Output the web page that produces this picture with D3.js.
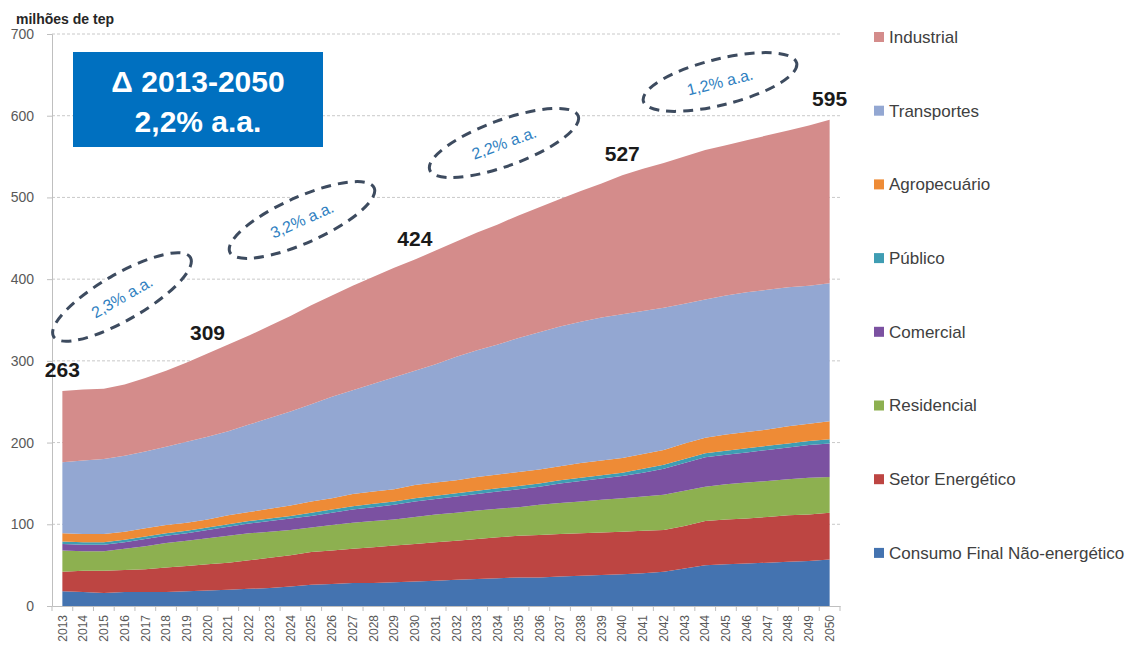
<!DOCTYPE html>
<html>
<head>
<meta charset="utf-8">
<script src="https://cdn.jsdelivr.net/npm/d3@7"></script>
<style>
  body { margin: 0; background: #fff; }
  svg { font-family: "Liberation Sans", Arial, sans-serif; display: block; }
</style>
</head>
<body>
<svg id="chart" width="1136" height="648"></svg>
<script>
// categories
const years = [2013, 2014, 2015, 2016, 2017, 2018, 2019, 2020, 2021, 2022,
    2023, 2024, 2025, 2026, 2027, 2028, 2029, 2030, 2031, 2032,
    2033, 2034, 2035, 2036, 2037, 2038, 2039, 2040, 2041, 2042,
    2043, 2044, 2045, 2046, 2047, 2048, 2049, 2050];

// series, milhões de tep (bottom of the stack first)
const consumoNaoEnergetico = [18, 17, 16, 17, 17, 17, 18, 19, 20, 21, 22, 24, 26, 27, 28, 28, 29, 30, 31, 32,
    33, 34, 35, 35, 36, 37, 38, 39, 40, 42, 46, 50, 51, 52, 53, 54, 55, 57];
const setorEnergetico = [24, 26, 27, 27, 28, 30, 31, 32, 33, 35, 37, 38, 40, 41, 42, 44, 45, 46, 47, 48,
    49, 50, 51, 52, 52, 52, 52, 52, 52, 51, 52, 54, 55, 55, 56, 57, 57, 57];
const residencial = [26, 24, 24, 26, 28, 30, 31, 32, 33, 33, 32, 31, 30, 31, 32, 32, 32, 33, 34, 34,
    35, 35, 35, 37, 38, 39, 40, 41, 42, 43, 43, 42, 43, 44, 44, 44, 45, 44];
const comercial = [8, 8, 8, 8, 9, 9, 9, 10, 11, 12, 13, 14, 14, 15, 16, 17, 18, 19, 19, 20,
    20, 21, 22, 22, 24, 25, 26, 27, 29, 32, 34, 36, 36, 37, 38, 39, 40, 41];
const publico = [3, 3, 3, 3, 3, 3, 3, 3, 3, 3, 3, 3, 4, 4, 4, 4, 4, 4, 4, 4,
    4, 4, 4, 4, 4, 4, 4, 4, 5, 5, 5, 5, 5, 5, 5, 5, 5, 5];
const agropecuario = [10, 10, 10, 10, 10, 10, 10, 10, 11, 11, 12, 13, 14, 14, 15, 15, 15, 16, 16, 16,
    17, 17, 17, 17, 17, 18, 18, 18, 18, 18, 19, 19, 20, 20, 20, 21, 21, 22];
const transportes = [87, 90, 92, 93, 94, 96, 99, 101, 103, 107, 111, 115, 119, 124, 127, 132, 137, 140, 145, 151,
    155, 159, 164, 168, 171, 173, 175, 176, 175, 174, 171, 169, 170, 171, 171, 170, 169, 169];
const industrial = [87, 87, 86, 87, 90, 93, 97, 102, 106, 109, 113, 117, 121, 124, 128, 131, 134, 136, 139, 141,
    144, 147, 150, 153, 156, 160, 164, 170, 174, 177, 180, 183, 184, 186, 189, 192, 196, 200];

const seriesNames = ["Consumo Final Não-energético", "Setor Energético", "Residencial", "Comercial",
    "Público", "Agropecuário", "Transportes", "Industrial"];
const seriesValues = [consumoNaoEnergetico, setorEnergetico, residencial, comercial,
    publico, agropecuario, transportes, industrial];
const seriesColors = ["#4473b0", "#bd4542", "#8db050", "#7b51a1", "#3f9db3", "#ee8b36", "#93a7d2", "#d48c8b"];

// totals written over the areas
const totalYears = [2013, 2020, 2030, 2040, 2050];
const totalLabels = ["263", "309", "424", "527", "595"];

// growth notes
const growthLabels = ["2,3% a.a.", "3,2% a.a.", "2,2% a.a.", "1,2% a.a."];

const yTicks = [0, 100, 200, 300, 400, 500, 600, 700];

const svg = d3.select("#chart");

const x = d3.scaleBand()
    .domain(years)
    .range([52, 840]);
const cx = (yr) => x(yr) + x.bandwidth() / 2;

const y = d3.scaleLinear()
    .domain([0, 700])
    .range([606, 34]);

// dotted gridlines
svg.append("g")
    .selectAll("line")
    .data(yTicks.slice(1))
    .join("line")
        .attr("x1", 52)
        .attr("x2", 840)
        .attr("y1", (d) => y(d))
        .attr("y2", (d) => y(d))
        .attr("stroke", "#c9c9c9")
        .attr("stroke-dasharray", "3,2");

// stacked areas
const rows = years.map((yr, i) => {
    const r = { year: yr };
    seriesNames.forEach((k, j) => r[k] = seriesValues[j][i]);
    return r;
});
const stacked = d3.stack().keys(seriesNames)(rows);

const area = d3.area()
    .x((d) => cx(d.data.year))
    .y0((d) => y(d[0]))
    .y1((d) => y(d[1]));

svg.append("g")
    .selectAll("path")
    .data(stacked)
    .join("path")
        .attr("d", area)
        .attr("fill", (d, i) => seriesColors[i]);

// y axis
const yAxis = svg.append("g")
    .attr("transform", "translate(52, 0)")
    .call(d3.axisLeft(y).tickValues(yTicks).tickSize(5).tickPadding(13));
yAxis.select(".domain").attr("stroke", "#bfbfbf");
yAxis.selectAll(".tick line").attr("stroke", "#bfbfbf");
yAxis.selectAll("text")
    .attr("fill", "#595959")
    .style("font-size", "14px")
    .style("font-family", "'Liberation Sans', Arial, sans-serif");

// x axis, labels rotated, ticks between categories
const xAxis = svg.append("g")
    .attr("transform", "translate(0, 606)")
    .call(d3.axisBottom(x).tickSize(0));
xAxis.select(".domain").attr("stroke", "#bfbfbf");
xAxis.selectAll("text")
    .attr("transform", "rotate(-90)")
    .attr("x", -9)
    .attr("y", 0)
    .attr("dy", "0.35em")
    .attr("fill", "#595959")
    .style("text-anchor", "end")
    .style("font-size", "12px")
    .style("font-family", "'Liberation Sans', Arial, sans-serif");

svg.append("g")
    .selectAll("line")
    .data(years.concat(["end"]))
    .join("line")
        .attr("x1", (d) => d === "end" ? x.range()[1] : x(d))
        .attr("x2", (d) => d === "end" ? x.range()[1] : x(d))
        .attr("y1", 606)
        .attr("y2", 611)
        .attr("stroke", "#bfbfbf");

// unit
svg.append("text")
    .attr("x", 16)
    .attr("y", 24)
    .attr("font-size", "14px")
    .attr("font-weight", "bold")
    .attr("fill", "#262626")
    .text("milhões de tep");

// totals
const topOf = (yr) => {
    const i = years.indexOf(yr);
    return d3.sum(seriesValues, (s) => s[i]);
};
svg.append("g")
    .selectAll("text")
    .data(totalYears)
    .join("text")
        .attr("x", (d) => cx(d))
        .attr("y", (d) => y(topOf(d)) - 14)
        .attr("text-anchor", "middle")
        .attr("font-size", "21px")
        .attr("font-weight", "bold")
        .attr("fill", "#1a1a1a")
        .text((d, i) => totalLabels[i]);

// blue box
svg.append("rect")
    .attr("x", 73)
    .attr("y", 52)
    .attr("width", 250)
    .attr("height", 95)
    .attr("fill", "#0070c0");
svg.append("text")
    .attr("x", 198)
    .attr("y", 92)
    .attr("text-anchor", "middle")
    .attr("font-size", "30px")
    .attr("font-weight", "bold")
    .attr("fill", "#fff")
    .text("Δ 2013-2050");
svg.append("text")
    .attr("x", 198)
    .attr("y", 132)
    .attr("text-anchor", "middle")
    .attr("font-size", "30px")
    .attr("font-weight", "bold")
    .attr("fill", "#fff")
    .text("2,2% a.a.");

// dashed ellipses with growth rates
const notePlaces = [
    { cx: 122, cy: 297, angle: -30 },
    { cx: 302, cy: 220, angle: -24 },
    { cx: 504, cy: 143, angle: -20 },
    { cx: 720, cy: 82, angle: -14 }
];
const notes = svg.append("g")
    .selectAll("g")
    .data(growthLabels)
    .join("g")
        .attr("transform", (d, i) => `translate(${notePlaces[i].cx}, ${notePlaces[i].cy}) rotate(${notePlaces[i].angle})`);
notes.append("ellipse")
    .attr("rx", 79)
    .attr("ry", 23)
    .attr("fill", "#fff")
    .attr("stroke", "#3d4b5f")
    .attr("stroke-width", 3)
    .attr("stroke-dasharray", "10,7");
notes.append("text")
    .attr("text-anchor", "middle")
    .attr("dy", "0.35em")
    .attr("font-size", "16px")
    .attr("fill", "#2f7fc1")
    .text((d) => d);

// legend, top item is the top of the stack
const legendItems = seriesNames.map((n, i) => ({ name: n, color: seriesColors[i] })).reverse();
const legend = svg.append("g")
    .selectAll("g")
    .data(legendItems)
    .join("g")
        .attr("transform", (d, i) => `translate(874, ${37 + i * 73.7})`);
legend.append("rect")
    .attr("x", 0)
    .attr("y", -5)
    .attr("width", 10)
    .attr("height", 10)
    .attr("fill", (d) => d.color);
legend.append("text")
    .attr("x", 15)
    .attr("dy", "0.35em")
    .attr("font-size", "17px")
    .attr("fill", "#404040")
    .text((d) => d.name);
</script>
</body>
</html>
